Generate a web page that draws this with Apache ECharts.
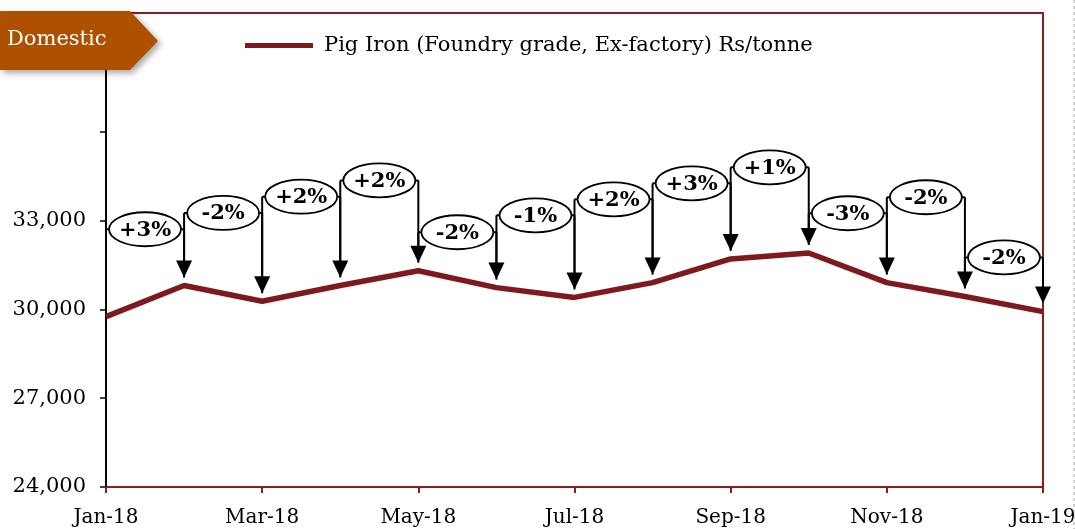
<!DOCTYPE html>
<html>
<head>
<meta charset="utf-8">
<script src="https://cdn.jsdelivr.net/npm/echarts@6/dist/echarts.min.js"></script>
<style>
  html, body { margin: 0; padding: 0; background: #fff; }
  #chart { width: 1075px; height: 529px; }
</style>
</head>
<body>
<div id="chart"></div>
<script>
// months on the x axis
var months = ['Jan-18', 'Feb-18', 'Mar-18', 'Apr-18', 'May-18', 'Jun-18', 'Jul-18',
  'Aug-18', 'Sep-18', 'Oct-18', 'Nov-18', 'Dec-18', 'Jan-19'];
// Pig Iron price, Rs/tonne
var price = [29750, 30800, 30270, 30800, 31300, 30730, 30400, 30900, 31700, 31900, 30900, 30430, 29920];
// month-on-month change labels
var changeLabels = ['+3%', '-2%', '+2%', '+2%', '-2%', '-1%', '+2%', '+3%', '+1%', '-3%', '-2%', '-2%'];
// height (in Rs) at which each change bubble sits
var labelLevel = [32700, 33250, 33800, 34350, 32600, 33170, 33710, 34250, 34790, 33240, 33780, 31750];
// y tick labels that are shown
var yTicks = [24000, 27000, 30000, 33000];

var serif = '"DejaVu Serif", "Liberation Serif", serif';
var lineColor = '#7e1a1f';
var frameColor = '#8b1d1d';

var bracketData = [];
for (var i = 0; i < changeLabels.length; i++) {
  bracketData.push([i, labelLevel[i], price[i], price[i + 1], changeLabels[i]]);
}

function renderBracket(params, api) {
  var i = api.value(0);
  var lvl = api.value(1);
  var a = api.coord([i, lvl]);
  var b = api.coord([i + 1, lvl]);
  var startPt = api.coord([i, api.value(2)]);
  var endPt = api.coord([i + 1, api.value(3)]);
  var gap = 8, head = 17, headW = 8;
  var stroke = { stroke: '#000', lineWidth: 2 };
  var tipY = endPt[1] - gap;
  var cx = (a[0] + b[0]) / 2;
  return {
    type: 'group',
    children: [
      { type: 'line', shape: { x1: a[0], y1: startPt[1] - gap, x2: a[0], y2: a[1] }, style: stroke },
      { type: 'line', shape: { x1: a[0], y1: a[1], x2: b[0], y2: b[1] }, style: stroke },
      { type: 'line', shape: { x1: b[0], y1: b[1], x2: b[0], y2: tipY - head + 1 }, style: stroke },
      { type: 'polygon', shape: { points: [[b[0] - headW, tipY - head], [b[0] + headW, tipY - head], [b[0], tipY]] },
        style: { fill: '#000' } },
      { type: 'ellipse', shape: { cx: cx, cy: a[1], rx: 36, ry: 17 },
        style: { fill: '#fff', stroke: '#000', lineWidth: 1.8 } },
      { type: 'text', x: cx, y: a[1] + 1,
        style: { text: api.value(4), fill: '#000', font: 'bold 21px ' + serif, align: 'center', verticalAlign: 'middle' } }
    ]
  };
}

var chart = echarts.init(document.getElementById('chart'));
chart.setOption({
  animation: false,
  grid: { left: 106, right: 32, top: 13, bottom: 42, show: true, borderColor: frameColor, borderWidth: 2,
    containLabel: false, outerBoundsMode: 'none' },
  legend: {
    left: 240, top: 30,
    itemWidth: 68, itemHeight: 5, itemGap: 10,
    icon: 'rect',
    data: ['Pig Iron (Foundry grade, Ex-factory) Rs/tonne'],
    textStyle: { fontFamily: serif, fontSize: 21, color: '#000', padding: [0, 0, 0, 6] }
  },
  xAxis: {
    type: 'category',
    data: months,
    boundaryGap: false,
    axisLine: { lineStyle: { color: frameColor, width: 2 } },
    axisTick: { interval: 1, length: 6, lineStyle: { color: frameColor, width: 2 } },
    axisLabel: { interval: 1, margin: 21, color: '#000', fontFamily: serif, fontSize: 20, hideOverlap: false },
    splitLine: { show: false }
  },
  yAxis: {
    type: 'value',
    min: 24000, max: 40000, interval: 3000,
    axisLine: { show: true, lineStyle: { color: '#000', width: 2 } },
    axisTick: { show: true, length: 6, lineStyle: { color: '#000', width: 1.5 } },
    axisLabel: {
      margin: 20, color: '#000', fontFamily: serif, fontSize: 21,
      formatter: function (v) { return yTicks.indexOf(v) >= 0 ? v.toLocaleString('en-US') : ''; }
    },
    splitLine: { show: false }
  },
  graphic: [
    { type: 'polygon', z: 100,
      shape: { points: [[0, 11], [130, 11], [158, 41], [130, 70], [0, 70]] },
      style: { fill: '#ad5000', shadowBlur: 6, shadowOffsetX: 3, shadowOffsetY: 3, shadowColor: 'rgba(0,0,0,0.35)' } },
    { type: 'text', z: 101, left: 7, top: 29,
      style: { text: 'Domestic', fill: '#fff', font: '21px ' + serif } },
    { type: 'line', z: 1, shape: { x1: 1074, y1: 0, x2: 1074, y2: 529 },
      style: { stroke: '#aaa', lineWidth: 1, lineDash: [3, 3] } }
  ],
  series: [
    {
      name: 'Pig Iron (Foundry grade, Ex-factory) Rs/tonne',
      type: 'line',
      data: price,
      symbol: 'none',
      lineStyle: { color: lineColor, width: 5.5 },
      itemStyle: { color: lineColor },
      z: 3
    },
    {
      type: 'custom',
      data: bracketData,
      renderItem: renderBracket,
      encode: { x: 0, y: 1 },
      z: 5,
      silent: true
    }
  ]
});
</script>
</body>
</html>
